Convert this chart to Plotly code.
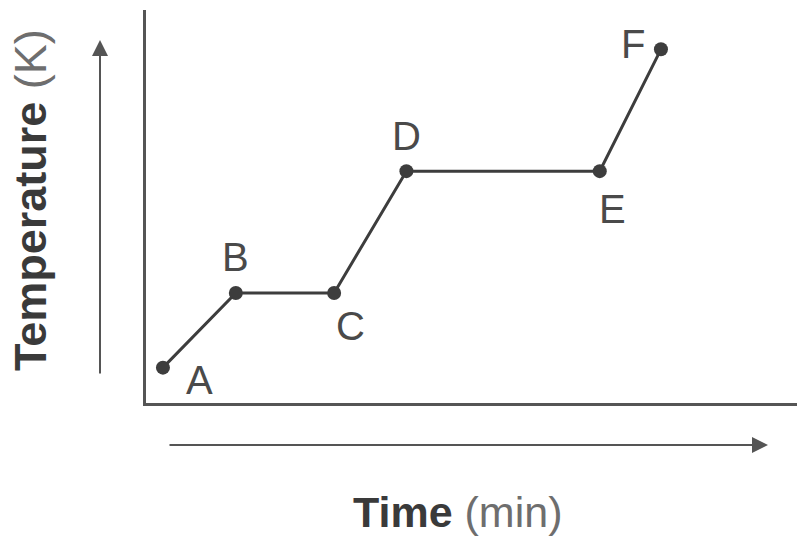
import plotly.graph_objects as go

# heating curve points (arbitrary units)
labels = ["A", "B", "C", "D", "E", "F"]
time_min = [2.6, 13.8, 28.9, 40.0, 69.7, 79.1]
temp_k = [9, 28, 28, 59, 59, 90]

# label offsets in pixels (dx, dy) relative to each point
label_dx = [37, 0, 16, 0, 13, -28]
label_dy = [-12, 36, -33, 35, -38, 5]

W, H = 797, 541
ink = "#3d3d3d"

fig = go.Figure()
fig.add_trace(go.Scatter(
    x=time_min, y=temp_k, mode="lines+markers",
    line=dict(color=ink, width=3),
    marker=dict(color=ink, size=14),
    cliponaxis=False, hoverinfo="skip", showlegend=False))

for lab, x, y, dx, dy in zip(labels, time_min, temp_k, label_dx, label_dy):
    fig.add_annotation(x=x, y=y, xref="x", yref="y", text=lab, showarrow=False,
                       xshift=dx, yshift=dy,
                       font=dict(family="Liberation Sans", size=40, color="#4a4a4a"))

# arrows alongside the axes
fig.add_annotation(xref="paper", yref="paper", x=100 / W, y=1 - 40 / H, ax=0, ay=335,
                   text="", showarrow=True, arrowhead=2, arrowsize=1.6, arrowwidth=2,
                   arrowcolor="#555555")
fig.add_annotation(xref="paper", yref="paper", x=768 / W, y=1 - 445 / H, ax=-600, ay=0,
                   text="", showarrow=True, arrowhead=2, arrowsize=1.6, arrowwidth=2,
                   arrowcolor="#555555")

# axis titles
fig.add_annotation(xref="paper", yref="paper", x=30 / W, y=1 - 200 / H, textangle=-90,
                   xanchor="center", yanchor="middle",
                   text="<b>Temperature</b> <span style='color:#6e6e6e'>(K)</span>",
                   showarrow=False,
                   font=dict(family="Liberation Sans", size=45, color="#3a3a3a"))
fig.add_annotation(xref="paper", yref="paper", x=458 / W, y=1 - 512 / H,
                   xanchor="center", yanchor="middle",
                   text="<b>Time</b> <span style='color:#6e6e6e'>(min)</span>",
                   showarrow=False,
                   font=dict(family="Liberation Sans", size=43, color="#3a3a3a"))

fig.update_xaxes(domain=[146 / W, 1], range=[0, 100], showline=True, linecolor="#555555",
                 linewidth=3, showgrid=False, zeroline=False, showticklabels=False, ticks="")
fig.update_yaxes(domain=[1 - 403 / H, 1 - 10 / H], range=[0, 100], showline=True,
                 linecolor="#555555", linewidth=3, showgrid=False, zeroline=False,
                 showticklabels=False, ticks="")
fig.update_layout(width=W, height=H, margin=dict(l=0, r=0, t=0, b=0),
                  paper_bgcolor="white", plot_bgcolor="white")
fig.write_html("out.html", config={"displayModeBar": False},
               post_script="document.body.style.margin='0';")
